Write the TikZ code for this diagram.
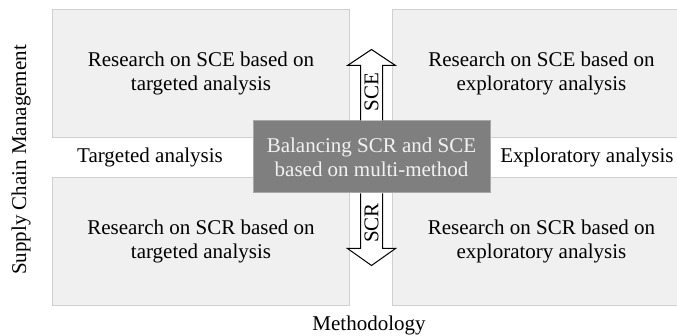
\documentclass[tikz,border=0pt]{standalone}
\usepackage{fontspec}
\setmainfont{Liberation Serif}
\definecolor{boxfill}{HTML}{F0F0F0}
\definecolor{boxline}{HTML}{D0D0D0}
\definecolor{midfill}{HTML}{7F7F7F}
\definecolor{midline}{HTML}{A8A8A8}
\definecolor{midtext}{HTML}{F2F2F2}
\tikzset{
  quad/.style={draw=boxline, fill=boxfill, line width=1pt, anchor=north west, align=center, inner sep=0pt,
    font=\fontsize{21}{24}\selectfont},
  lbl/.style={font=\fontsize{21}{24}\selectfont, inner sep=0pt},
  blockarrow/.style={draw=black, fill=white, line width=1pt, line join=miter},
  midbox/.style={draw=midline, fill=midfill, line width=1pt, text=midtext, align=center, inner sep=0pt,
    font=\fontsize{21}{24}\selectfont}
}
\begin{document}
\begin{tikzpicture}[x=1pt,y=-1pt]
\useasboundingbox (0,0) rectangle (677,336);
\node[quad, minimum width=297pt, minimum height=127.5pt] (tl) at (52,9.5) {Research on SCE based on\\targeted analysis};
\node[quad, minimum width=298pt, minimum height=127.5pt] (tr) at (392,9.5) {Research on SCE based on\\exploratory analysis};
\node[quad, minimum width=297pt, minimum height=127.5pt] (bl) at (52,177.5) {Research on SCR based on\\targeted analysis};
\node[quad, minimum width=298pt, minimum height=127.5pt] (br) at (392,177.5) {Research on SCR based on\\exploratory analysis};

\node[lbl] (ta) at (150,157) {Targeted analysis};
\node[lbl] (ea) at (587,157) {Exploratory analysis};
\node[lbl] (meth) at (369,325) {Methodology};
\node[lbl, rotate=90] (scm) at (21,160) {Supply Chain Management};

\node[midbox, minimum width=237pt, minimum height=72pt] (mid) at (371.5,157) {Balancing SCR and SCE\\based on multi-method};

\coordinate (upbase) at (mid.north);
\coordinate (dnbase) at (mid.south);
\draw[blockarrow] ([xshift=-11pt]upbase) -- ++(0,-55) -- ++(-13,0) -- ++(24,-16) -- ++(24,16) -- ++(-13,0) -- ([xshift=11pt]upbase);
\draw[blockarrow] ([xshift=-11pt]dnbase) -- ++(0,55) -- ++(-13,0) -- ++(24,17) -- ++(24,-17) -- ++(-13,0) -- ([xshift=11pt]dnbase);
\node[lbl, rotate=90] (sce) at (371.5,92) {SCE};
\node[lbl, rotate=90] (scr) at (371.5,223) {SCR};
\end{tikzpicture}
\end{document}
